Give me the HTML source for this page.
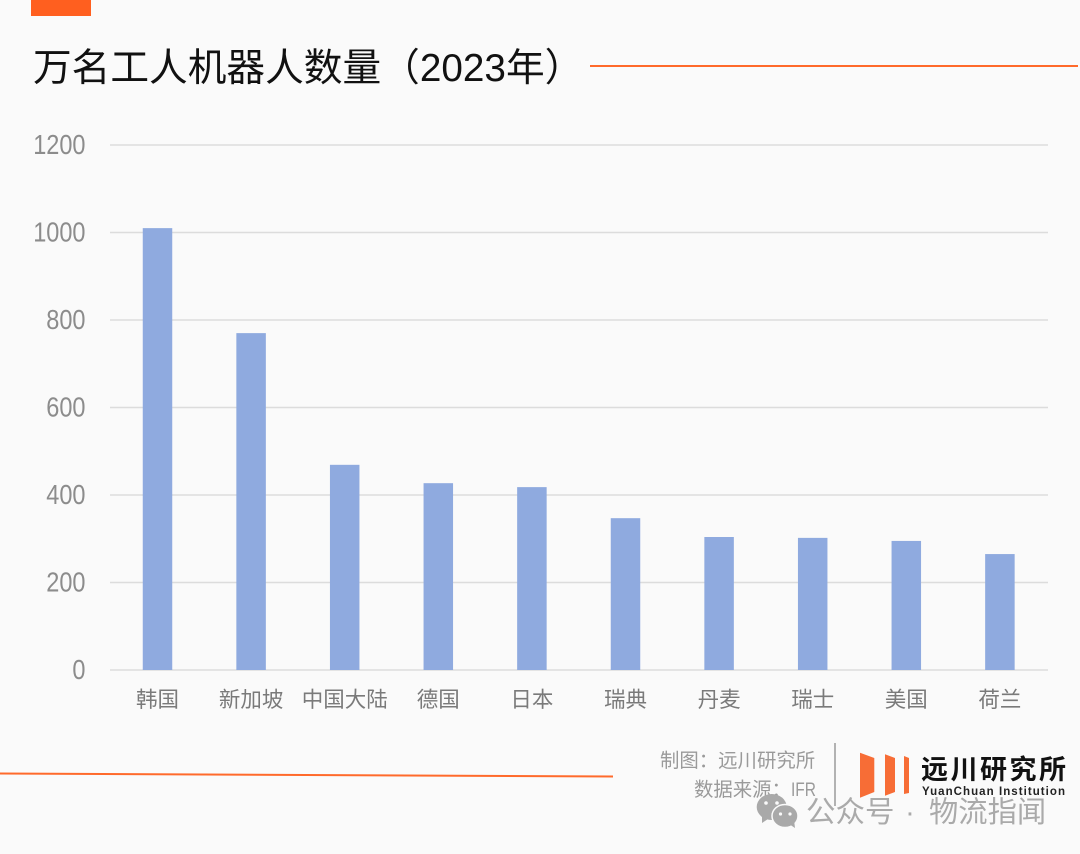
<!DOCTYPE html>
<html lang="zh">
<head>
<meta charset="utf-8">
<title>万名工人机器人数量（2023年）</title>
<style>
html,body{margin:0;padding:0;background:#fafafa;}
svg{display:block;}
text{font-family:"Liberation Sans","Noto Sans CJK SC",sans-serif;}
</style>
</head>
<body>
<svg id="chart" xmlns="http://www.w3.org/2000/svg" width="1080" height="854" viewBox="0 0 1080 854">
  <rect x="0" y="0" width="1080" height="854" fill="#fafafa"/>
  <rect x="31" y="0" width="60" height="16" fill="#ff5f1f"/>
  <text x="33" y="81" font-size="38.7" fill="#111">万名工人机器人数量（2023年）</text>
  <line x1="590" y1="66" x2="1078" y2="66" stroke="#ff6a2b" stroke-width="2"/>
  <g id="grid"></g>
  <g id="bars"></g>
  <g id="ylabels"></g>
  <g id="xlabels"></g>
  <line x1="0" y1="773.5" x2="613" y2="776.5" stroke="#ff6a2b" stroke-width="2"/>
  <text x="660" y="767" font-size="19.4" fill="#9a9a9a">制图：远川研究所</text>
  <text x="694" y="796" font-size="19.4" fill="#9a9a9a">数据来源：</text>
  <text x="791" y="796" font-size="19.4" textLength="25" lengthAdjust="spacingAndGlyphs" fill="#9a9a9a">IFR</text>
  <line x1="835" y1="743" x2="835" y2="806" stroke="#9a9a9a" stroke-width="1.5"/>
  <g fill="#f76d36">
    <polygon points="860,752.7 874.3,758 874.3,792 860,797.7"/>
    <polygon points="885,754.3 895,758 895,792 885,795.7"/>
    <polygon points="904,756 909,758 909,793 904,794"/>
  </g>
  <text x="921" y="779" font-size="27" font-weight="bold" letter-spacing="2.5" fill="#111">远川研究所</text>
  <text x="922" y="795" font-size="11.5" font-weight="bold" letter-spacing="1.05" fill="#222">YuanChuan Institution</text>
  <g fill="#a9a9a9">
    <ellipse cx="771.7" cy="807" rx="15" ry="13"/>
    <polygon points="762,815 762,823 771,817"/>
    <circle cx="766" cy="803" r="1.8" fill="#fafafa"/>
    <circle cx="777" cy="803" r="1.8" fill="#fafafa"/>
    <ellipse cx="785" cy="816" rx="13" ry="11.5" stroke="#fafafa" stroke-width="1.5"/>
    <polygon points="789,824 795,828 794,820"/>
    <circle cx="780.5" cy="814" r="1.6" fill="#fafafa"/>
    <circle cx="790" cy="814" r="1.6" fill="#fafafa"/>
  </g>
  <text x="806" y="822" font-size="29.5" fill="#aaaaaa">公众号</text>
  <text x="910" y="822" font-size="29" text-anchor="middle" fill="#aaaaaa">·</text>
  <text x="929" y="822" font-size="29.3" fill="#aaaaaa">物流指闻</text>
</svg>
<script>
var categories = ['韩国', '新加坡', '中国大陆', '德国', '日本', '瑞典', '丹麦', '瑞士', '美国', '荷兰'];
var robotsPer10k = [1010, 770, 469, 427, 418, 347, 304, 302, 295, 265];
var yTicks = [0, 200, 400, 600, 800, 1000, 1200];

var NS = 'http://www.w3.org/2000/svg';
var plotLeft = 110, plotRight = 1048, plotTop = 145, plotBottom = 670, yMax = 1200, barWidth = 29.5;
var bandLeft = 110.7, bandRight = 1046.7;

function yScale(v) {
  return plotBottom - (v / yMax) * (plotBottom - plotTop);
}
function xCenter(i) {
  return bandLeft + (i + 0.5) * (bandRight - bandLeft) / categories.length;
}
function make(tag, attrs, parentId, content) {
  var el = document.createElementNS(NS, tag);
  for (var k in attrs) { el.setAttribute(k, attrs[k]); }
  if (content !== undefined) { el.textContent = content; }
  document.getElementById(parentId).appendChild(el);
  return el;
}

yTicks.forEach(function (t) {
  var y = yScale(t);
  var line = make('line', { x1: plotLeft, x2: plotRight, y1: y, y2: y, stroke: '#dcdcdc', 'stroke-width': 1.5 }, 'grid');
  
  
  var label = make('text', { transform: 'translate(85.5,' + (y + 9) + ') scale(0.84,1)', 'text-anchor': 'end', 'font-size': 28, fill: '#8c8c8c' }, 'ylabels', String(t));
  
  
});

categories.forEach(function (c, i) {
  var cx = xCenter(i);
  var y = yScale(robotsPer10k[i]);
  var bar = make('rect', { x: cx - barWidth / 2, y: y, width: barWidth, height: plotBottom - y, fill: '#8faadf' }, 'bars');
  
  
  var label = make('text', { x: cx, y: 707, 'text-anchor': 'middle', 'font-size': 21.5, fill: '#7a7a7a' }, 'xlabels', c);
  
  
});
</script>
</body>
</html>
